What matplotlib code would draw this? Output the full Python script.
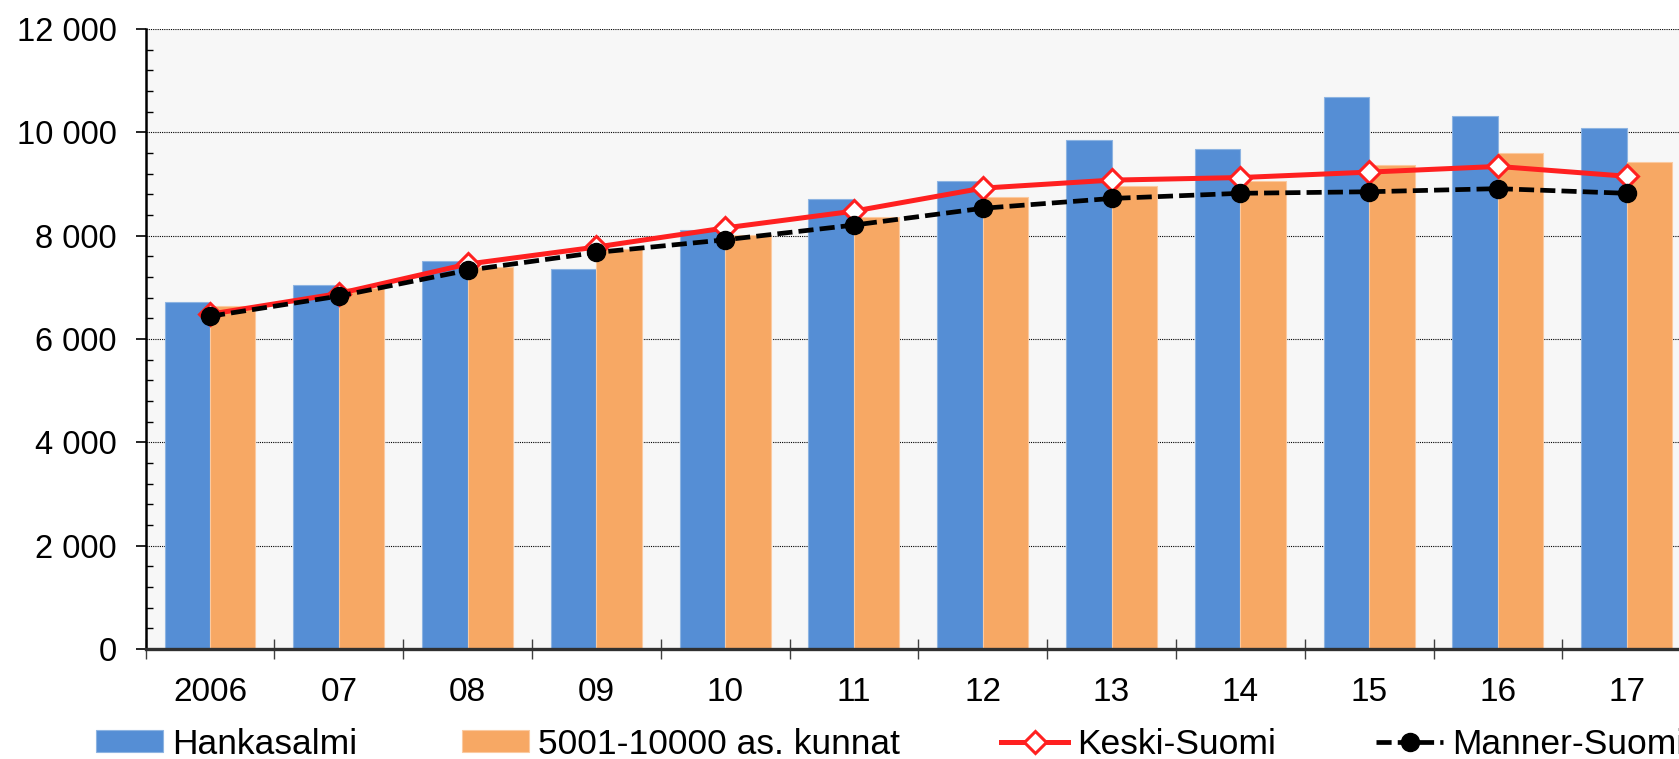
import numpy as np
import matplotlib
matplotlib.use("Agg")
import matplotlib.pyplot as plt
from matplotlib.ticker import MultipleLocator, FuncFormatter

plt.rcParams['font.family'] = ['Liberation Sans', 'DejaVu Sans']

# DATA
years = ['2006', '07', '08', '09', '10', '11', '12', '13', '14', '15', '16', '17']
hankasalmi = [6720, 7040, 7510, 7360, 8110, 8710, 9060, 9850, 9680, 10690, 10320, 10080]
kunnat = [6645, 6990, 7385, 7740, 8020, 8370, 8750, 8955, 9060, 9365, 9595, 9430]
keski_suomi = [6480, 6880, 7450, 7780, 8150, 8475, 8920, 9075, 9125, 9230, 9340, 9150]
manner_suomi = [6440, 6830, 7330, 7675, 7920, 8205, 8530, 8720, 8820, 8850, 8910, 8820]
series_names = ['Hankasalmi', '5001-10000 as. kunnat', 'Keski-Suomi', 'Manner-Suomi']

BLUE = '#558ed5'
ORANGE = '#f7a864'
RED = '#ff2020'

fig = plt.figure(figsize=(16.79, 7.59), dpi=100)
# axes deliberately runs a little past the right edge (picture is cropped)
ax = fig.add_axes([0.0867, 0.1449, 0.9205, 0.8169])
ax.set_facecolor('#f7f7f7')

x = np.arange(len(years))
w = 0.353
b1 = ax.bar(x - w / 2, hankasalmi, width=w, color=BLUE, edgecolor='#8db4e2', linewidth=0.8, zorder=2)
b2 = ax.bar(x + w / 2, kunnat, width=w, color=ORANGE, edgecolor='#fbcaa0', linewidth=0.8, zorder=2)
l1, = ax.plot(x, keski_suomi, color=RED, lw=3.6, marker='D', ms=11, mfc='white', mec=RED, mew=2.2, zorder=3)
l2, = ax.plot(x, manner_suomi, color='black', lw=3.4, ls=(0, (3.2, 1.3)), marker='o', ms=13,
              mfc='black', mec='black', zorder=4)

# axes limits / grid
ax.set_xlim(-0.5, len(years) - 0.5)
ax.set_ylim(0, 12000)
ax.yaxis.set_major_locator(MultipleLocator(2000))
ax.yaxis.set_minor_locator(MultipleLocator(400))
ax.yaxis.set_major_formatter(FuncFormatter(lambda v, p: f'{int(v):,}'.replace(',', ' ')))
ax.grid(axis='y', which='major', color='black', lw=0.8, ls=(0, (1, 1)), zorder=1)
ax.set_axisbelow(True)

ax.tick_params(axis='y', which='major', direction='out', length=7, width=1.2, pad=14, labelsize=23.5)
ax.tick_params(axis='y', which='minor', direction='in', length=5, width=1)

# category boundaries as major ticks, labels on minor ticks at centres
ax.set_xticks(np.arange(len(years) + 1) - 0.5)
ax.set_xticklabels([])
ax.set_xticks(x, minor=True)
ax.set_xticklabels(years, minor=True)
ax.tick_params(axis='x', which='major', direction='inout', length=14, width=1, color='#404040')
ax.tick_params(axis='x', which='minor', length=0, pad=20, labelsize=24)

for s in ['top', 'right']:
    ax.spines[s].set_visible(False)
ax.spines['left'].set_linewidth(1.8)
ax.spines['bottom'].set_linewidth(2.4)
ax.spines['bottom'].set_color('#303030')

# legend: one entry per box, placed like the original
handles = [b1, b2, l1, l2]
starts = [96, 462, 1001, 1376]
for h, name, sx in zip(handles, series_names, starts):
    fig.legend([h], [name], loc='center left', bbox_to_anchor=(sx / 1679, 1 - 744 / 759),
               frameon=False, fontsize=25.5, handlelength=1.9, handleheight=0.55,
               handletextpad=0.25, borderpad=0, borderaxespad=0)

fig.savefig('out.png', dpi=100)
